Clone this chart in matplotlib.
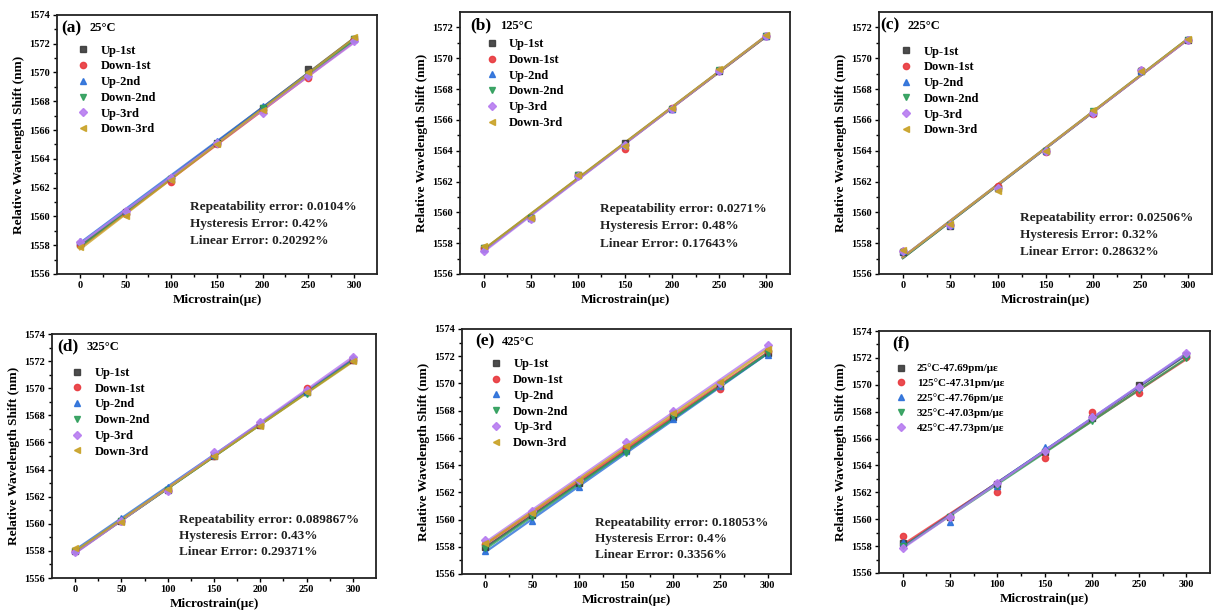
import numpy as np
import matplotlib

matplotlib.use("Agg")
import matplotlib.pyplot as plt

plt.rcParams["font.family"] = ["Liberation Serif", "DejaVu Serif"]
plt.rcParams["font.weight"] = "bold"

strain = [0, 50, 100, 150, 200, 250, 300]

run_labels = ["Up-1st", "Down-1st", "Up-2nd", "Down-2nd", "Up-3rd", "Down-3rd"]

# (a) 25°C
a_up1 = [1558.1, 1560.3, 1562.6, 1565.1, 1567.5, 1570.25, 1572.3]
a_down1 = [1558.0, 1560.2, 1562.4, 1565.0, 1567.4, 1569.6, 1572.3]
a_up2 = [1558.3, 1560.4, 1562.7, 1565.25, 1567.7, 1569.9, 1572.3]
a_down2 = [1558.0, 1560.2, 1562.6, 1565.0, 1567.5, 1569.8, 1572.3]
a_up3 = [1558.2, 1560.4, 1562.7, 1565.1, 1567.2, 1569.75, 1572.2]
a_down3 = [1557.9, 1560.05, 1562.5, 1565.0, 1567.4, 1570.0, 1572.45]

# (b) 125°C
b_up1 = [1557.7, 1559.6, 1562.4, 1564.5, 1566.7, 1569.2, 1571.45]
b_down1 = [1557.7, 1559.6, 1562.4, 1564.1, 1566.75, 1569.25, 1571.45]
b_up2 = [1557.6, 1559.6, 1562.4, 1564.4, 1566.7, 1569.25, 1571.45]
b_down2 = [1557.7, 1559.6, 1562.45, 1564.3, 1566.7, 1569.25, 1571.45]
b_up3 = [1557.5, 1559.55, 1562.35, 1564.4, 1566.7, 1569.2, 1571.45]
b_down3 = [1557.8, 1559.65, 1562.4, 1564.3, 1566.8, 1569.3, 1571.5]

# (c) 225°C
c_up1 = [1557.45, 1559.1, 1561.6, 1563.95, 1566.45, 1569.2, 1571.2]
c_down1 = [1557.5, 1559.15, 1561.7, 1563.9, 1566.4, 1569.25, 1571.2]
c_up2 = [1557.5, 1559.2, 1561.6, 1564.0, 1566.5, 1569.2, 1571.25]
c_down2 = [1557.45, 1559.15, 1561.5, 1563.95, 1566.6, 1569.2, 1571.2]
c_up3 = [1557.5, 1559.2, 1561.55, 1564.0, 1566.45, 1569.25, 1571.15]
c_down3 = [1557.55, 1559.25, 1561.4, 1564.0, 1566.65, 1569.2, 1571.25]

# (d) 325°C
d_up1 = [1558.0, 1560.2, 1562.5, 1565.0, 1567.3, 1569.7, 1572.1]
d_down1 = [1558.0, 1560.2, 1562.5, 1565.0, 1567.3, 1570.0, 1572.1]
d_up2 = [1558.1, 1560.45, 1562.7, 1565.1, 1567.4, 1569.7, 1572.2]
d_down2 = [1558.0, 1560.2, 1562.5, 1565.0, 1567.3, 1569.6, 1572.1]
d_up3 = [1557.9, 1560.2, 1562.4, 1565.3, 1567.5, 1569.9, 1572.27]
d_down3 = [1558.2, 1560.1, 1562.6, 1565.0, 1567.2, 1569.7, 1572.0]

# (e) 425°C
e_up1 = [1558.0, 1560.3, 1562.7, 1565.1, 1567.5, 1569.8, 1572.2]
e_down1 = [1558.2, 1560.5, 1562.8, 1565.3, 1567.8, 1569.6, 1572.4]
e_up2 = [1557.7, 1559.9, 1562.4, 1565.0, 1567.4, 1569.8, 1572.1]
e_down2 = [1557.9, 1560.2, 1562.6, 1564.9, 1567.6, 1569.8, 1572.2]
e_up3 = [1558.5, 1560.6, 1562.9, 1565.7, 1568.0, 1570.0, 1572.85]
e_down3 = [1558.3, 1560.5, 1562.9, 1565.4, 1567.8, 1570.1, 1572.5]

# (f) averaged curves per temperature
f_labels = ["25°C-47.69pm/με", "125°C-47.31pm/με", "225°C-47.76pm/με",
            "325°C-47.03pm/με", "425°C-47.73pm/με"]
f_25 = [1558.2, 1560.2, 1562.6, 1565.0, 1567.5, 1570.0, 1572.2]
f_125 = [1558.75, 1560.2, 1562.05, 1564.55, 1568.0, 1569.4, 1572.1]
f_225 = [1558.3, 1559.8, 1562.5, 1565.4, 1567.7, 1569.8, 1572.3]
f_325 = [1558.0, 1560.2, 1562.5, 1565.0, 1567.3, 1569.6, 1572.0]
f_425 = [1557.85, 1560.2, 1562.7, 1565.1, 1567.6, 1569.8, 1572.4]

colors = ["#3a3a3a", "#e8383d", "#2a6fd9", "#2e9e5b", "#b77cf0", "#c9a227"]
markers = ["s", "o", "^", "v", "D", "<"]
msizes = [4, 4.5, 4.5, 4.5, 3.8, 4.5]


def draw_panel(ax, series, labels, tag, tag_x, temp, temp_x, ylim, leg_xy,
               notes=None, note_x=None, note_y=None, leg_size=9, leg_space=0.3):
    for i, (ys, lab) in enumerate(zip(series, labels)):
        k, b = np.polyfit(strain, ys, 1)
        xs = np.array([strain[0], strain[-1]])
        ax.plot(xs, k * xs + b, color=colors[i], lw=1.6, alpha=0.8, zorder=2)
        ax.plot(strain, ys, ls="none", marker=markers[i], ms=msizes[i],
                color=colors[i], alpha=0.9, label=lab, zorder=3)

    ax.set_xlim(-25, 325)
    ax.set_ylim(*ylim)
    ax.set_xticks(range(0, 301, 50))
    ax.set_xticks(range(25, 301, 50), minor=True)
    ax.set_yticks(range(1556, int(ylim[1]) + 1, 2))
    ax.set_yticks(range(1557, int(ylim[1]), 2), minor=True)
    ax.tick_params(which="major", direction="out", length=3, width=1, labelsize=7.5, pad=2)
    ax.tick_params(which="minor", direction="out", length=2, width=1)
    for lbl in ax.get_xticklabels() + ax.get_yticklabels():
        lbl.set_fontweight("bold")
    for sp in ax.spines.values():
        sp.set_linewidth(1.3)
        sp.set_color("#222222")

    ax.set_xlabel("Microstrain(με)", fontsize=9.5, fontweight="bold", labelpad=3)
    ax.set_ylabel("Relative Wavelength Shift (nm)", fontsize=9.5, fontweight="bold", labelpad=3)

    ax.text(tag_x, 0.948, tag, transform=ax.transAxes, fontsize=12.5, fontweight="bold",
            va="center", ha="left")
    if temp:
        ax.text(temp_x, 0.948, temp, transform=ax.transAxes, fontsize=9, fontweight="bold",
                va="center", ha="left")

    ax.legend(loc="upper left", bbox_to_anchor=leg_xy, frameon=False,
              labelspacing=leg_space, handletextpad=0.8, handlelength=1.2,
              borderaxespad=0, borderpad=0, prop={"weight": "bold", "size": leg_size})

    if notes:
        for j, line in enumerate(notes):
            ax.text(note_x, note_y - 0.066 * j, line, transform=ax.transAxes,
                    fontsize=9.5, fontweight="bold", va="center", ha="left",
                    color="#222222")


fig = plt.figure(figsize=(12.16, 6.11), dpi=100)

positions = [
    [0.0469, 0.5516, 0.2630, 0.4240],
    [0.3783, 0.5516, 0.2714, 0.4288],
    [0.7229, 0.5516, 0.2738, 0.4288],
    [0.0428, 0.0540, 0.2664, 0.3993],
    [0.3799, 0.0606, 0.2706, 0.4010],
    [0.7229, 0.0622, 0.2722, 0.3960],
]
axes = [fig.add_axes(p) for p in positions]

draw_panel(axes[0], [a_up1, a_down1, a_up2, a_down2, a_up3, a_down3], run_labels,
           "(a)", 0.012, "25°C", 0.1, (1556, 1574), (0.058, 0.885),
           ["Repeatability error: 0.0104%", "Hysteresis Error: 0.42%", "Linear Error: 0.20292%"],
           0.416, 0.259)
draw_panel(axes[1], [b_up1, b_down1, b_up2, b_down2, b_up3, b_down3], run_labels,
           "(b)", 0.03, "125°C", 0.12, (1556, 1573), (0.073, 0.9),
           ["Repeatability error: 0.0271%", "Hysteresis Error: 0.48%", "Linear Error: 0.17643%"],
           0.424, 0.248)
draw_panel(axes[2], [c_up1, c_down1, c_up2, c_down2, c_up3, c_down3], run_labels,
           "(c)", 0.004, "225°C", 0.085, (1556, 1573), (0.059, 0.872),
           ["Repeatability error: 0.02506%", "Hysteresis Error: 0.32%", "Linear Error: 0.28632%"],
           0.423, 0.214)
draw_panel(axes[3], [d_up1, d_down1, d_up2, d_down2, d_up3, d_down3], run_labels,
           "(d)", 0.015, "325°C", 0.105, (1556, 1574), (0.055, 0.865),
           ["Repeatability error: 0.089867%", "Hysteresis Error: 0.43%", "Linear Error: 0.29371%"],
           0.392, 0.238)
draw_panel(axes[4], [e_up1, e_down1, e_up2, e_down2, e_up3, e_down3], run_labels,
           "(e)", 0.04, "425°C", 0.12, (1556, 1574), (0.08, 0.88),
           ["Repeatability error: 0.18053%", "Hysteresis Error: 0.4%", "Linear Error: 0.3356%"],
           0.404, 0.208)
draw_panel(axes[5], [f_25, f_125, f_225, f_325, f_425], f_labels,
           "(f)", 0.04, None, None, (1556, 1574), (0.047, 0.865),
           leg_size=8, leg_space=0.45)

fig.savefig("out.png", dpi=100)
